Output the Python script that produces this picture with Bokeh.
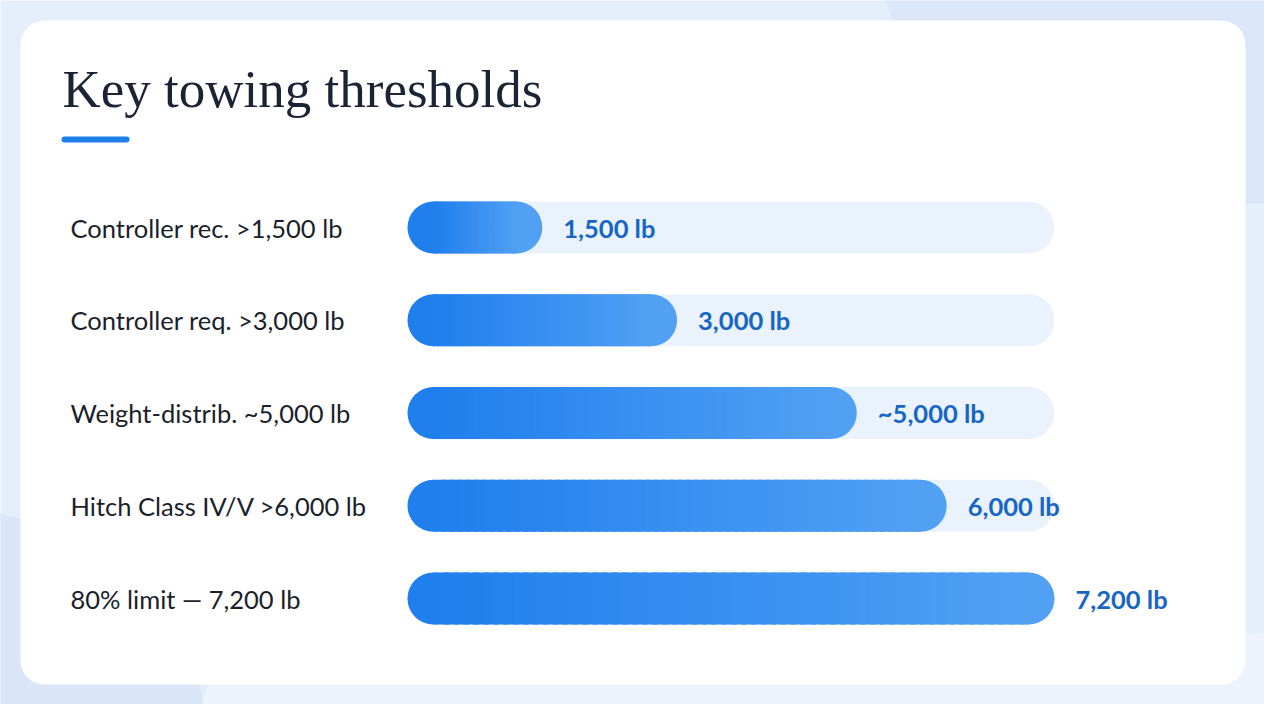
from bokeh.plotting import figure
from bokeh.models import Range1d, ColumnDataSource
from bokeh.embed import file_html
from bokeh.resources import INLINE
from bokeh.core.properties import value

# ---------------- data ----------------
title = "Key towing thresholds"
categories = [
    "Controller rec. >1,500 lb",
    "Controller req. >3,000 lb",
    "Weight-distrib. ~5,000 lb",
    "Hitch Class IV/V >6,000 lb",
    "80% limit \u2014 7,200 lb",
]
values = [1500, 3000, 5000, 6000, 7200]
value_labels = ["1,500 lb", "3,000 lb", "~5,000 lb", "6,000 lb", "7,200 lb"]
track_max = 7200

# ---------------- layout ----------------
W, H = 1264, 704
OFF = 8  # page margin


def px(v):
    return v - OFF


X0, X1 = px(415), px(1062)
ppu = (X1 - X0) / track_max
val_range = Range1d(-X0 / ppu, (W - X0) / ppu)
ROW0, ROWSTEP = px(235), 92.75
row_range = Range1d((H - ROW0) / ROWSTEP, -ROW0 / ROWSTEP)
BAR_PX = 52
RAD = 26
bar_h = BAR_PX / ROWSTEP
r_val = (BAR_PX / 2) / ppu
rows = list(range(len(categories)))

p = figure(width=W, height=H, x_range=Range1d(0, W), y_range=Range1d(H, 0),
           output_backend="svg", toolbar_location=None, min_border=0,
           background_fill_color="#e5eefb", border_fill_color="#e5eefb")
p.extra_x_ranges = {"val": val_range}
p.extra_y_ranges = {"row": row_range}
p.axis.visible = False
p.grid.visible = False
p.outline_line_color = None

# background shapes
p.patch([px(v) for v in [885, 1290, 1290, 975]], [px(v) for v in [-10, -10, 211, 211]],
        color="#d9e7f9", line_color=None)
p.patch([px(v) for v in [-10, 180, 216, -10]], [px(v) for v in [515, 576, 730, 730]],
        color="#d9e6f8", line_color=None)
p.patch([px(v) for v in [216, 1290, 1290, 203]], [px(v) for v in [692, 640, 730, 730]],
        color="#edf3fc", line_color=None)

# card
p.quad(left=[px(28)], right=[px(1253)], top=[px(28)], bottom=[px(692)],
       fill_color="white", line_color=None, border_radius=24)

# title + accent
p.text(x=[px(70)], y=[px(96)], text=[title], text_baseline="alphabetic",
       text_font=value("Liberation Serif"), text_font_size="53px", text_color="#1b2435")
p.segment(x0=[px(72)], x1=[px(134)], y0=[px(147)], y1=[px(147)],
          line_width=6, line_cap="round", line_color="#1f7fe9")

# tracks
track_src = ColumnDataSource(dict(y=rows, right=[track_max] * len(rows)))
p.hbar(y="y", left=0, right="right", height=bar_h, source=track_src,
       fill_color="#eaf3fd", line_color=None, border_radius=RAD,
       x_range_name="val", y_range_name="row")

# gradient bars
C0 = (0x1f, 0x7f, 0xed)
C1 = (0x51, 0xa0, 0xf4)


def mix(t):
    return "#%02x%02x%02x" % tuple(int(round(a + (b - a) * t)) for a, b in zip(C0, C1))


caps = dict(y=[], left=[], right=[], color=[])
strips = dict(y=[], left=[], right=[], color=[])
N = 60
for r, v in zip(rows, values):
    caps["y"] += [r, r]
    caps["left"] += [0, v - 2 * r_val]
    caps["right"] += [2 * r_val, v]
    caps["color"] += [mix(0), mix(1)]
    a, b = r_val, v - r_val
    step = (b - a) / N
    for k in range(N):
        l = a + k * step
        strips["y"].append(r)
        strips["left"].append(l)
        strips["right"].append(min(l + step * 1.6, b))
        strips["color"].append(mix((k + 0.5) / N))

p.hbar(y="y", left="left", right="right", height=bar_h, source=ColumnDataSource(caps),
       fill_color="color", line_color=None, border_radius=RAD,
       x_range_name="val", y_range_name="row")
p.hbar(y="y", left="left", right="right", height=bar_h, source=ColumnDataSource(strips),
       fill_color="color", line_color=None,
       x_range_name="val", y_range_name="row")

# value labels
p.text(x=values, y=rows, text=value_labels, x_offset=21, text_baseline="middle",
       text_font=value("Lato"), text_font_style="bold", text_font_size="25.5px",
       text_color="#1766c4", x_range_name="val", y_range_name="row")

# category labels
p.text(x=[px(78)] * len(rows), y=rows, text=categories, text_baseline="middle",
       text_font=value("Lato"), text_font_size="25.5px", text_color="#1b1f2b",
       y_range_name="row")

open("out.html", "w").write(file_html(p, INLINE))
